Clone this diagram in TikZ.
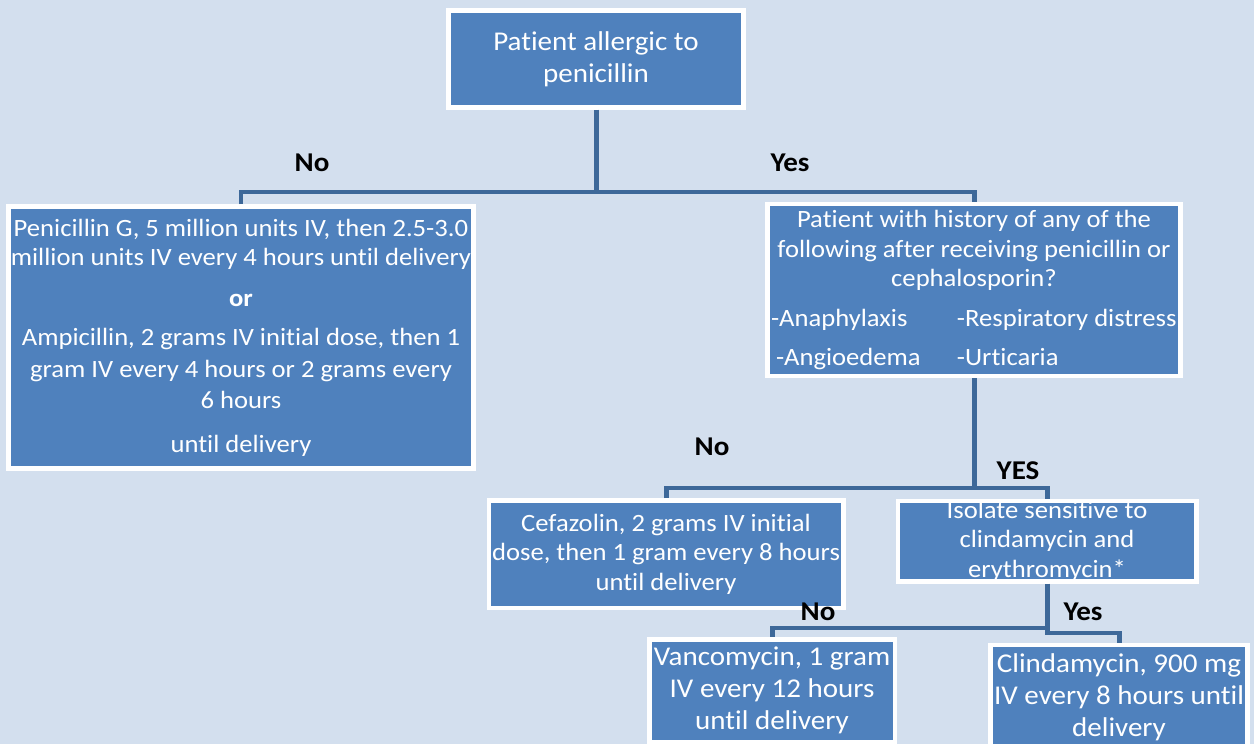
\documentclass[tikz,border=0pt]{standalone}
\usepackage{fontspec}
\setmainfont{Carlito}[FakeStretch=1.07, Ligatures=CommonOff]
\usetikzlibrary{positioning}

\definecolor{bgblue}{RGB}{211,223,238}
\definecolor{boxblue}{RGB}{79,129,189}
\definecolor{lineblue}{RGB}{61,104,153}

\tikzset{
	box/.style={rectangle, draw=white, line width=3.2pt, fill=boxblue, inner sep=0pt, outer sep=0pt},
	txt/.style={text=white, align=center, inner sep=0pt, font=\fontsize{17.7}{21}\selectfont},
	bigtxt/.style={txt, font=\fontsize{19.3}{22.8}\selectfont},
	link/.style={draw=lineblue, line width=3.55pt, shorten >=1.6pt, shorten <=1.6pt},
	lab/.style={font=\fontsize{19.3}{22.8}\selectfont\bfseries, inner sep=0pt, text depth=0pt, anchor=center},
}

\begin{document}
\begin{tikzpicture}[on grid, auto]
			\useasboundingbox (0,0) rectangle (31.35,-18.6);
			\clip (0,0) rectangle (31.35,-18.6);
			\fill[bgblue] (0,0) rectangle (31.35,-18.6);
			
			\node[box, minimum width=7.375cm, minimum height=2.425cm,
				label={[bigtxt]center:{Patient allergic to\\penicillin}}] (root) at (14.9,-1.475) {};
			\node[box, below left=6.9625cm and 8.875cm of root, minimum width=11.625cm, minimum height=6.55cm,
				label={[txt]center:{Penicillin G, 5 million units IV, then 2.5-3.0\\million units IV every 4 hours until delivery\\[7.8pt]\textbf{or}\\[7pt]Ampicillin, 2 grams IV initial dose, then 1\\[1.4pt]gram IV every 4 hours or 2 grams every\\[1.4pt]6 hours\\[10pt]until delivery}}] (pen) {};
			\node[box, below right=5.775cm and 9.45cm of root, minimum width=10.325cm, minimum height=4.3cm,
				label={[txt]center:{Patient with history of any of the\\following after receiving penicillin or\\cephalosporin?\\[7.4pt]\makebox[4.65cm][l]{-Anaphylaxis}\makebox[5.5cm][l]{-Respiratory distress}\\[6.7pt]\makebox[4.65cm][l]{\hspace{0.125cm}-Angioedema}\makebox[5.5cm][l]{-Urticaria}}}] (hist) {};
			\node[box, below left=6.6cm and 7.7cm of hist, minimum width=8.8625cm, minimum height=2.6875cm,
				label={[txt]center:{Cefazolin, 2 grams IV initial\\dose, then 1 gram every 8 hours\\until delivery}}] (cef) {};
			\node[box, below right=6.275cm and 1.825cm of hist, minimum width=7.4625cm, minimum height=2.0125cm,
				label={[txt]center:{Isolate sensitive to\\clindamycin and\\erythromycin*}}] (iso) {};
			\node[box, below left=3.74375cm and 6.875cm of iso, minimum width=6.1375cm, minimum height=2.5625cm,
				label={[bigtxt]center:{Vancomycin, 1 gram\\IV every 12 hours\\until delivery}}] (vanc) {};
			\node[box, below right=3.9cm and 1.8cm of iso, minimum width=6.425cm, minimum height=2.6cm,
				label={[bigtxt]center:{Clindamycin, 900 mg\\IV every 8 hours until\\delivery}}] (clin) {};
			
			% junctions
			\coordinate[below=3.325cm of root] (j1);
			\coordinate[below=4.95cm of hist] (j2);
			\coordinate[below=2.175cm of iso] (j3);
			\coordinate[below=2.3cm of iso] (j4);
			
			\node[lab] (no1) at ([shift={(-7.1cm,0.725cm)}]j1) {No};
			\node[lab] (yes1) at ([shift={(4.85cm,0.725cm)}]j1) {Yes};
			\node[lab] (no2) at ([shift={(-6.55cm,1.025cm)}]j2) {No};
			\node[lab] (yes2) at ([shift={(1.1cm,0.425cm)}]j2) {YES};
			\node[lab] (no3) at ([shift={(-5.725cm,0.4cm)}]j3) {No};
			\node[lab] (yes3) at ([shift={(0.9cm,0.4cm)}]j3) {Yes};
			
			\draw[link] (root.south) -- (j1);
			\draw[link] (pen.north) |- (j1) -| (hist.north);
			\draw[link] (hist.south) -- (j2);
			\draw[link] (cef.north) |- (j2) -| (iso.north);
			\draw[link] (iso.south) -- (j4) -| (clin.north);
			\draw[link] (j3) -| (vanc.north);
			
		\end{tikzpicture}
\end{document}
